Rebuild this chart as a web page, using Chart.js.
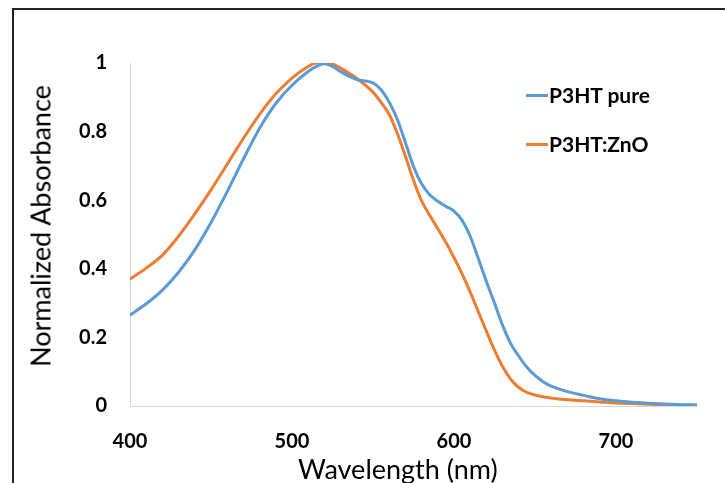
<!DOCTYPE html>
<html>
<head>
<meta charset="utf-8">
<script src="https://cdn.jsdelivr.net/npm/chart.js@4.4.1/dist/chart.umd.min.js"></script>
<style>
  html, body { margin: 0; padding: 0; background: #fff; }
  #wrap { position: relative; width: 725px; height: 483px; overflow: hidden; }
  #frame { position: absolute; left: 12px; top: 8px; width: 800px; height: 600px;
           border-left: 2px solid #222; border-top: 2px solid #222; }
  #chartBox { position: absolute; left: 0; top: 0; width: 725px; height: 483px; }
  .lbl { position: absolute; font-family: Lato, "Liberation Sans", sans-serif; color: #000; white-space: nowrap; }
  .key { position: absolute; height: 3px; width: 22px; }
</style>
</head>
<body>
<div id="wrap">
  <div id="frame"></div>
  <div id="chartBox"><canvas id="myChart"></canvas></div>
  <div class="key" style="left:526px; top:94px; background:#5B9BD5"></div>
  <div class="lbl" style="left:549px; top:84px; font-size:21px; line-height:21px; font-weight:bold">P3HT pure</div>
  <div class="key" style="left:526px; top:143px; background:#ED7D31"></div>
  <div class="lbl" style="left:549px; top:133px; font-size:21px; line-height:21px; font-weight:bold">P3HT:ZnO</div>
  <div class="lbl" style="left:298px; top:455px; font-size:27px; line-height:27px">Wavelength (nm)</div>
  <div class="lbl" style="left:40px; top:226px; font-size:27px; line-height:27px; transform: translate(-50%, -50%) rotate(-90deg)">Normalized Absorbance</div>
</div>
<script>
// wavelength grid (nm) shared by both spectra
const wavelengths = [400, 410, 420, 430, 440, 450, 460, 470, 480, 490, 500, 510, 515, 520, 525, 530, 540, 550, 555,
  560, 565, 570, 575, 580, 585, 590, 595, 600, 605, 610, 615, 620, 625, 630, 635, 640, 645, 650, 655, 660,
  670, 680, 690, 700, 710, 720, 730, 740, 750];

// normalized absorbance
const pureAbs = [0.265, 0.298, 0.338, 0.39, 0.455, 0.535, 0.625, 0.72, 0.81, 0.882, 0.935, 0.975, 0.99, 0.998, 0.99, 0.975, 0.952, 0.942, 0.922,
  0.886, 0.836, 0.768, 0.698, 0.648, 0.616, 0.597, 0.582, 0.568, 0.541, 0.495, 0.43, 0.363, 0.30, 0.235, 0.182, 0.145, 0.113, 0.089, 0.071, 0.058,
  0.042, 0.031, 0.021, 0.015, 0.011, 0.008, 0.006, 0.004, 0.003];
const znoAbs = [0.37, 0.402, 0.44, 0.495, 0.56, 0.63, 0.705, 0.78, 0.85, 0.91, 0.956, 0.99, 1.0, 1.0, 0.997, 0.985, 0.955, 0.915, 0.885,
  0.85, 0.795, 0.728, 0.658, 0.598, 0.556, 0.517, 0.477, 0.433, 0.385, 0.332, 0.275, 0.218, 0.163, 0.115, 0.078, 0.054, 0.04, 0.032, 0.027, 0.023,
  0.018, 0.015, 0.012, 0.009, 0.007, 0.005, 0.004, 0.003, 0.002];

const seriesNames = ['P3HT pure', 'P3HT:ZnO'];
const xTickValues = [400, 500, 600, 700];
const yTickValues = [0, 0.2, 0.4, 0.6, 0.8, 1];

const toPoints = (ys) => wavelengths.map((x, i) => ({ x: x, y: ys[i] }));

const chartCanvas = document.getElementById('myChart').getContext('2d');

const tickFont = { family: 'Lato', size: 20, weight: 'bold' };

const chart = new Chart(chartCanvas, {
  type: 'line',
  data: {
    datasets: [{
      label: seriesNames[0],
      data: toPoints(pureAbs),
      borderColor: '#5B9BD5',
      borderWidth: 3,
      pointRadius: 0,
      cubicInterpolationMode: 'monotone'
    }, {
      label: seriesNames[1],
      data: toPoints(znoAbs),
      borderColor: '#ED7D31',
      borderWidth: 3,
      pointRadius: 0,
      cubicInterpolationMode: 'monotone'
    }]
  },
  options: {
    responsive: true,
    maintainAspectRatio: false,
    animation: false,
    layout: { padding: { left: 0, right: 28, top: 63, bottom: 0 } },
    plugins: { legend: { display: false }, tooltip: { enabled: false } },
    scales: {
      x: {
        type: 'linear',
        min: 400,
        max: 750,
        afterBuildTicks: (s) => { s.ticks = xTickValues.map(v => ({ value: v })); },
        afterFit: (s) => { s.height = 77; },
        grid: { drawOnChartArea: false, drawTicks: false },
        border: { color: '#D9D9D9', width: 1 },
        ticks: { color: '#000', padding: 24, maxRotation: 0, font: tickFont, callback: (v) => String(v) }
      },
      y: {
        min: 0,
        max: 1,
        afterBuildTicks: (s) => { s.ticks = yTickValues.map(v => ({ value: v })); },
        afterFit: (s) => { s.width = 130; },
        grid: { drawOnChartArea: false, drawTicks: false },
        border: { color: '#D9D9D9', width: 1 },
        ticks: { color: '#000', padding: 23, font: tickFont, callback: (v) => String(v) }
      }
    }
  }
});
</script>
</body>
</html>
